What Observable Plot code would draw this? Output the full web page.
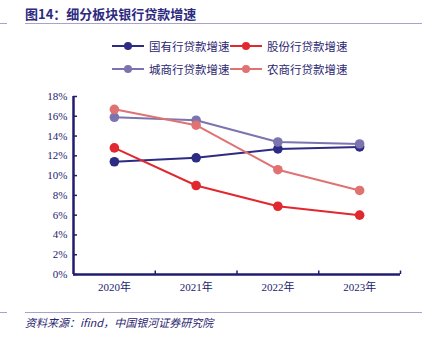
<!DOCTYPE html>
<html><head><meta charset="utf-8">
<script src="https://cdn.jsdelivr.net/npm/d3@7"></script>
<script src="https://cdn.jsdelivr.net/npm/@observablehq/plot@0.6"></script>
<style>
body{margin:0;background:#fff;width:422px;height:338px;position:relative;overflow:hidden;font-family:"Noto Sans CJK SC",sans-serif;}
.abs{position:absolute;}
#title{left:25px;top:4px;font-size:13px;font-weight:bold;color:#2E2A7F;white-space:nowrap;}
.hl{height:1px;background:#A9A3CC;}
#legend{left:112px;top:38px;width:300px;}
.item{position:absolute;display:flex;align-items:center;font-size:11.5px;color:#2B2670;white-space:nowrap;font-family:"Noto Sans CJK SC",serif;}
#foot{left:25px;top:314px;font-size:11px;font-style:italic;color:#2B2670;white-space:nowrap;}
#chart{left:0;top:84px;}
#chart svg text{font-family:"Liberation Serif","Noto Sans CJK SC",serif;}
</style></head>
<body>
<div id="title" class="abs">图14：细分板块银行贷款增速</div>
<div class="abs hl" style="left:0;top:23px;width:7px"></div>
<div class="abs hl" style="left:25px;top:23px;width:397px"></div>
<div id="legend" class="abs"></div>
<div id="chart" class="abs"></div>
<div class="abs hl" style="left:0;top:312px;width:7px"></div>
<div class="abs hl" style="left:25px;top:312px;width:397px"></div>
<div id="foot" class="abs">资料来源：ifind，中国银河证券研究院</div>
<script>
const years = ["2020年","2021年","2022年","2023年"];
const seriesNames = ["国有行贷款增速","股份行贷款增速","城商行贷款增速","农商行贷款增速"];
const colors = ["#2E2B84","#E0282E","#7B74AE","#E07272"];
const guoyou = [11.4, 11.8, 12.7, 12.9];
const gufen = [12.8, 9.0, 6.9, 6.0];
const chengshang = [15.9, 15.6, 13.4, 13.2];
const nongshang = [16.7, 15.1, 10.6, 8.5];
const yTicks = [0,2,4,6,8,10,12,14,16,18];

const seriesValues = [guoyou, gufen, chengshang, nongshang];
const data = [];
seriesNames.forEach((s, k) => seriesValues[k].forEach((v, i) => data.push({series: s, i, v})));
const idx = years.map((_, i) => i);
const bounds = years.map((_, i) => i + 0.5);

const navy = "#221C6E";
const serif = "'Liberation Serif', 'Noto Sans CJK SC', serif";
const chart = Plot.plot({
  width: 422, height: 221,
  marginLeft: 73, marginRight: 22, marginTop: 12, marginBottom: 31,
  x: {type: "linear", domain: [-0.5, years.length - 0.5]},
  y: {domain: [0, 18]},
  color: {domain: seriesNames, range: colors},
  style: {fontFamily: serif, fontSize: "11px", color: navy},
  marks: [
    Plot.axisY({ticks: yTicks, tickSize: -4, tickPadding: 10, tickFormat: d => d + "%", label: null, stroke: navy, fill: navy, strokeWidth: 1.5, fontFamily: serif, fontSize: 11}),
    Plot.axisX({ticks: idx, tickSize: 0, tickPadding: 9, tickFormat: i => years[i], label: null, fill: navy, fontFamily: serif, fontSize: 11}),
    Plot.ruleX(bounds, {y1: 0, y2: 0.35, stroke: navy, strokeWidth: 1.5}),
    Plot.ruleY([0], {stroke: navy, strokeWidth: 2.5}),
    Plot.ruleX([-0.5], {y1: 0, y2: 18, stroke: navy, strokeWidth: 2.5}),
    Plot.line(data, {x: "i", y: "v", z: "series", stroke: "series", strokeWidth: 2}),
    Plot.dot(data, {x: "i", y: "v", fill: "series", r: 4.8})
  ]
});
document.getElementById("chart").appendChild(chart);

const leg = document.getElementById("legend");
seriesNames.forEach((s, k) => {
  const row = Math.floor(k / 2), col = k % 2;
  const d = document.createElement("div");
  d.className = "item";
  d.style.left = (col * 118) + "px";
  d.style.top = (row * 23) + "px";
  d.innerHTML = `<svg width="34" height="12" style="margin-right:3px"><line x1="0" x2="32" y1="6" y2="6" stroke="${colors[k]}" stroke-width="2"/><circle cx="16" cy="6" r="4" fill="${colors[k]}"/></svg><span>${s}</span>`;
  leg.appendChild(d);
});
</script>
</body></html>
